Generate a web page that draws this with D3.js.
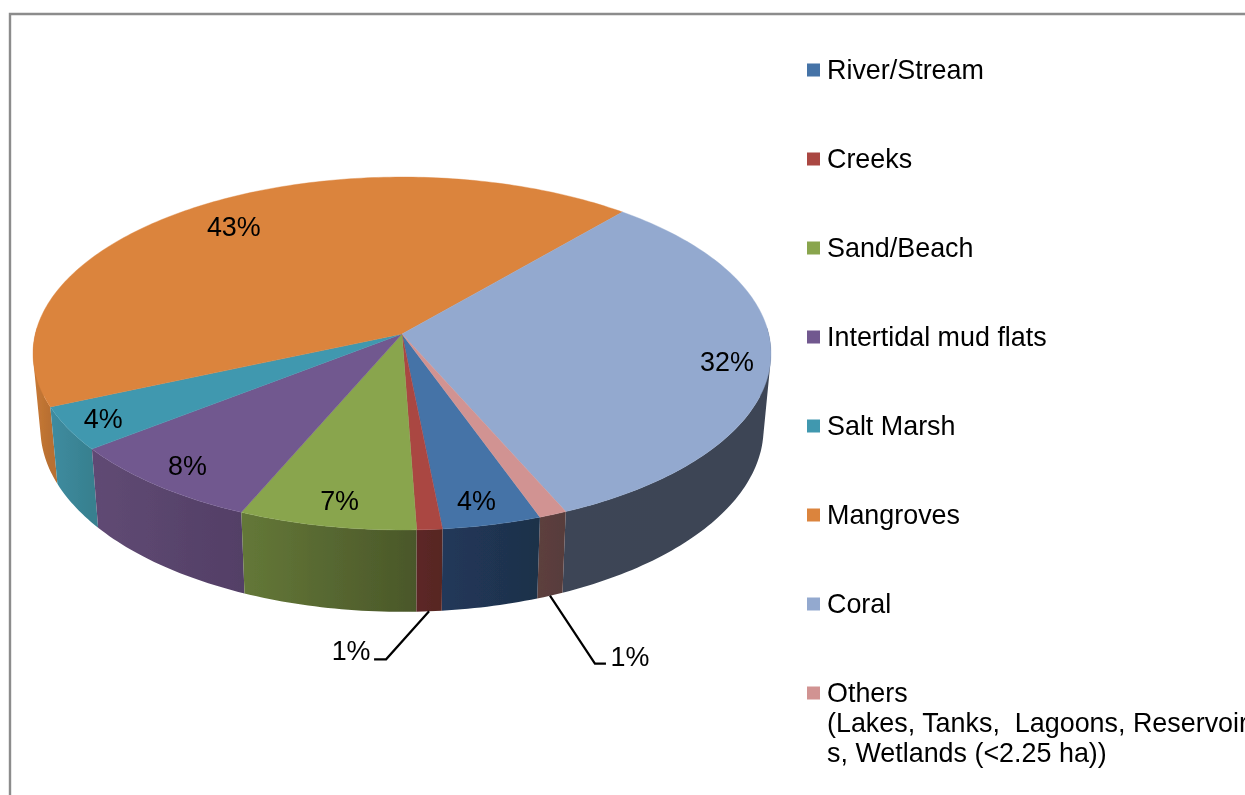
<!DOCTYPE html>
<html>
<head>
<meta charset="utf-8">
<script src="https://cdn.jsdelivr.net/npm/d3@7"></script>
<style>
html,body{margin:0;padding:0;background:#fff;overflow:hidden}
svg{display:block}
text{font-family:"Liberation Sans",Arial,sans-serif;font-size:26.9px;fill:#000;white-space:pre}
</style>
</head>
<body>
<div id="chart"></div>
<script>
const categories = ["River/Stream","Creeks","Sand/Beach","Intertidal mud flats","Salt Marsh","Mangroves","Coral","Others"];
const othersDetail = ["(Lakes, Tanks,  Lagoons, Reservoir","s, Wetlands (<2.25 ha))"];
const values = [3.9,1.0,7.0,8.0,4.0,42.8,32.1,1.1];
const valueLabels = ["4%","1%","7%","8%","4%","43%","32%","1%"];
const topColors = ["#4573a7","#aa4643","#89a54e","#71588f","#4198af","#db843d","#93a9cf","#d19392"];
const sideFrom = ["#21385a","#5c2826","#647838","#604a74","#3f8ca0","#c97a37","#3c4556","#5c3f3e"];
const sideTo   = ["#1e3049","#572523","#4a5729","#533f66","#37808f","#b86f30","#3c4454","#583c3b"];
const labelRadii = [0.885,null,0.88,0.885,0.90,0.82,0.885,null];
const labelShiftDeg = [0.7,0,-0.5,0,0,-0.4,1.8,0];

const W = 1245, H = 795;
const svg = d3.select("#chart").append("svg").attr("width",W).attr("height",H);
const defs = svg.append("defs");
defs.append("filter").attr("id","soft").attr("filterUnits","userSpaceOnUse")
  .attr("x",0).attr("y",0).attr("width",W).attr("height",H)
  .append("feGaussianBlur").attr("stdDeviation",0.45);
const root = svg.append("g").attr("filter","url(#soft)");

// frame
root.append("path").attr("d",`M10,${H+5}V14H${W+5}`).attr("fill","none").attr("stroke","#8c8c8c").attr("stroke-width",2.4);

// perspective pie geometry
const cx=402, cy=334, a=366.7, b=174.3, k=0.1105, sx=0.98, sy=1.04, depth=74;
const rad = d=>d*Math.PI/180;
function face(theta,r=1){
  const u=r*Math.sin(theta), v=r*Math.cos(theta), w=1+k*v;
  return [a*u/w, b*v/w];
}
const topPt = (t,r=1)=>{const [X,Y]=face(t,r);return [cx+X,cy-Y];};
const bottomPt = t=>{const [X,Y]=face(t);return [cx+X*sx,cy-Y*sy+depth];};

const pie = d3.pie().sort(null).startAngle(rad(160.3)).endAngle(rad(160.3+360));
const slices = pie(values).map((d,i)=>({...d,i,mid:(d.startAngle+d.endAngle)/2}));
const line = d3.line();
const arcAngles = d=>{
  const n=Math.max(4,Math.ceil((d.endAngle-d.startAngle)/rad(1)));
  return d3.range(n+1).map(j=>d.startAngle+(d.endAngle-d.startAngle)*j/n);
};
// only the part of the wall that faces the viewer
const visibleAngles = d=>arcAngles(d).filter(t=>Math.cos(t)<0.05);
function wallPath(d){
  const ts=visibleAngles(d);
  return d3.pairs(ts).map(([t0,t1])=>{
    const q=[topPt(t0),topPt(t1),bottomPt(t1),bottomPt(t0)];
    if(d3.polygonArea(q)<0) q.reverse();
    return line(q)+"Z";
  }).join("");
}

// gradients for the side walls
slices.forEach(d=>{
  const xs=visibleAngles(d).map(t=>topPt(t)[0]);
  const g=defs.append("linearGradient").attr("id","side"+d.i)
    .attr("gradientUnits","userSpaceOnUse")
    .attr("x1",d3.min(xs)).attr("x2",d3.max(xs)).attr("y1",0).attr("y2",0);
  g.append("stop").attr("offset",0).attr("stop-color",sideFrom[d.i]);
  g.append("stop").attr("offset",1).attr("stop-color",sideTo[d.i]);
});

// side walls
root.append("g").selectAll("path")
  .data(slices.slice().sort((p,q)=>Math.cos(q.mid)-Math.cos(p.mid)))
  .join("path")
  .attr("d",wallPath)
  .attr("fill",d=>`url(#side${d.i})`);

// top faces
root.append("g").selectAll("path").data(slices).join("path")
  .attr("d",d=>line([[cx,cy]].concat(arcAngles(d).map(t=>topPt(t))))+"Z")
  .attr("fill",d=>topColors[d.i])
  .attr("stroke",d=>topColors[d.i]).attr("stroke-width",0.4);

// inside labels
const labelPt = d=>topPt(d.mid+rad(labelShiftDeg[d.i]),labelRadii[d.i]);
root.append("g").selectAll("text")
  .data(slices.filter(d=>labelRadii[d.i]!==null)).join("text")
  .attr("text-anchor","middle").attr("dominant-baseline","central")
  .attr("x",d=>labelPt(d)[0])
  .attr("y",d=>labelPt(d)[1])
  .text(d=>valueLabels[d.i]);

// leader-line labels
const leaders = [{i:1,dir:-1,dx:43,dy:48,run:12,tx:23,ty:-8},{i:7,dir:1,dx:45,dy:68,run:11,tx:24,ty:-7}];
leaders.forEach(l=>{
  const d=slices[l.i], s=bottomPt(d.mid);
  const e=[s[0]+l.dir*l.dx,s[1]+l.dy], f=[e[0]+l.dir*l.run,e[1]];
  root.append("path").attr("d",line([s,e,f])).attr("fill","none").attr("stroke","#000").attr("stroke-width",2.2);
  root.append("text").attr("text-anchor","middle").attr("dominant-baseline","central")
    .attr("x",f[0]+l.dir*l.tx).attr("y",f[1]+l.ty).text(valueLabels[l.i]);
});

// legend
const legendY = d3.scalePoint().domain(categories).range([70,693]);
const leg = root.append("g").selectAll("g").data(categories).join("g");
leg.append("rect").attr("x",807).attr("width",13).attr("height",13)
  .attr("y",d=>legendY(d)-6.5).attr("fill",(d,i)=>topColors[i]);
leg.append("text").attr("x",827).attr("y",d=>legendY(d)+8.5).text(d=>d);
othersDetail.forEach((t,i)=>{
  root.append("text").attr("x",827).attr("y",legendY("Others")+8.5+30.3*(i+1)).text(t);
});
</script>
</body>
</html>
